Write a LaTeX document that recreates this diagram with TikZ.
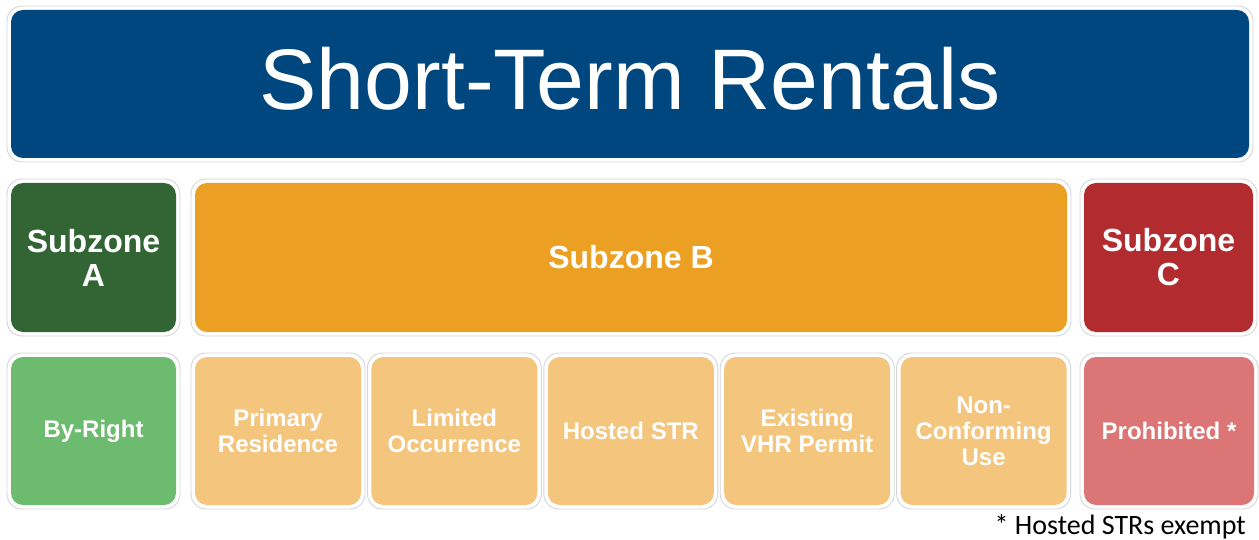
\documentclass[tikz,border=0pt]{standalone}
\usepackage{fontspec}
\setmainfont{Liberation Sans}
\newfontfamily\notefont{Carlito}

\definecolor{titleblue}{RGB}{1,71,127}
\definecolor{zoneA}{RGB}{50,101,51}
\definecolor{zoneB}{RGB}{236,160,35}
\definecolor{zoneC}{RGB}{178,43,47}
\definecolor{optA}{RGB}{108,187,111}
\definecolor{optB}{RGB}{244,197,125}
\definecolor{optC}{RGB}{220,117,117}
\definecolor{rimgray}{RGB}{214,214,214}

% #1 name, #2-#5 corners (x1,y1,x2,y2), #6 extra style, #7 text
\newcommand\tilebox[7]{%
  \draw[rim] ({#2-4},{#3-4}) rectangle ({#4+4},{#5+4});
  \node[tile,#6,minimum width={#4-#2},minimum height={#5-#3}] (#1)
    at ({(#2+#4)/2},{(#3+#5)/2}) {#7};
}

\begin{document}
\begin{tikzpicture}[x=1pt,y=-1pt,
  tile/.style={rounded corners=12pt, inner sep=0pt, text=white, align=center,
    font=\bfseries\fontsize{24}{26}\selectfont},
  zonefont/.style={font=\bfseries\fontsize{32}{34}\selectfont},
  rim/.style={draw=rimgray, line width=0.9pt, rounded corners=15pt, fill=white}]
\useasboundingbox[fill=white] (0,0) rectangle (1259,540);

% header
\tilebox{title}{11}{10}{1249}{158}{fill=titleblue}{}
\node[anchor=base, text=white, font=\fontsize{86}{86}\selectfont] (titletext)
  at (630,110) {Short-Term Rentals};

% subzones
\tilebox{zA}{11}{183}{176}{332}{fill=zoneA,zonefont}{Subzone\\A}
\tilebox{zB}{195}{183}{1067}{332}{fill=zoneB,zonefont}{Subzone B}
\tilebox{zC}{1084}{183}{1253}{332}{fill=zoneC,zonefont}{Subzone\\C}

% permitted uses
\tilebox{byright}{11}{357}{176}{505}{fill=optA}{By-Right}
\tilebox{primary}{195}{357}{361}{505}{fill=optB}{Primary\\Residence}
\tilebox{limited}{371.4}{357}{537.4}{505}{fill=optB}{Limited\\Occurrence}
\tilebox{hosted}{547.8}{357}{713.8}{505}{fill=optB}{Hosted STR}
\tilebox{existing}{724.2}{357}{890.2}{505}{fill=optB}{Existing\\VHR Permit}
\tilebox{nonconf}{900.6}{357}{1066.6}{505}{fill=optB}{Non-\\Conforming\\Use}
\tilebox{prohib}{1084}{357}{1254}{505}{fill=optC}{Prohibited *}

% footnote
\node[anchor=base east, inner sep=0pt, font=\notefont\fontsize{28}{28}\selectfont]
  (note) at (1246,534) {* Hosted STRs exempt};
\end{tikzpicture}
\end{document}
